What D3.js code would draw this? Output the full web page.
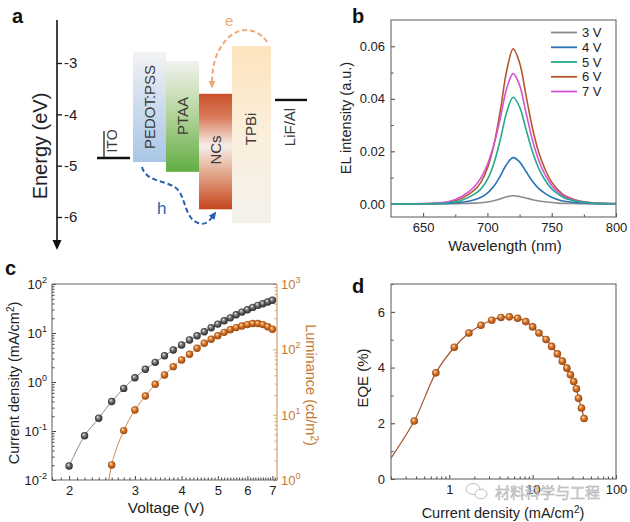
<!DOCTYPE html>
<html><head><meta charset="utf-8">
<script src="https://cdn.jsdelivr.net/npm/d3@7"></script>
<style>body{margin:0;background:#fff} svg{display:block;font-family:"Liberation Sans",Arial,sans-serif}</style>
</head><body><svg id="fig" width="630" height="522"></svg>
<script>
// ---------------- DATA ----------------
// panel a: energy levels (eV)
const layerNames = ["PEDOT:PSS", "PTAA", "NCs", "TPBi"];
const layerTop = [-2.79, -2.96, -3.60, -2.67];
const layerBottom = [-4.93, -5.12, -5.85, -6.12];
const electrodeNames = ["ITO", "LiF/Al"];
const electrodeLevels = [-4.85, -3.72];
const energyTicks = [-3, -4, -5, -6];

// panel b: EL spectra
const wavelengths = [620,640,660,670,680,690,695,700,705,710,715,720,725,730,735,740,745,750,755,760,770,780,790,800];
const el3V = [0,0,0.00002,0.00005,0.00013,0.0003,0.00045,0.0007,0.0012,0.0019,0.0027,0.0031,0.0028,0.0022,0.0016,0.0011,0.0008,0.0005,0.0003,0.0002,0.0001,0.00004,0.00001,0];
const el4V = [0,0,0.00005,0.0002,0.0006,0.0016,0.0025,0.0041,0.0067,0.0106,0.0151,0.0176,0.016,0.0123,0.0086,0.0058,0.0039,0.0025,0.0016,0.001,0.0004,0.00016,0.00005,0.00002];
const el5V = [0,0,0.0001,0.0004,0.0014,0.0037,0.0057,0.0093,0.0154,0.0244,0.0349,0.0406,0.0369,0.0284,0.0199,0.0134,0.0089,0.0057,0.0037,0.0022,0.0009,0.0004,0.0001,0.00004];
const el6V = [0,0,0.0002,0.0006,0.0021,0.0053,0.0083,0.0136,0.0224,0.0354,0.0507,0.059,0.0537,0.0413,0.0289,0.0195,0.013,0.0083,0.0053,0.0032,0.0013,0.0005,0.0002,0.0001];
const el7V = [0,0,0.0003,0.0009,0.0028,0.0066,0.0100,0.0150,0.0225,0.0325,0.0440,0.0496,0.0452,0.0347,0.0243,0.0164,0.0109,0.007,0.0045,0.0027,0.0011,0.0004,0.0002,0.0001];
const elLabels = ["3 V", "4 V", "5 V", "6 V", "7 V"];
const bXTicks = [650, 700, 750, 800];
const bYTicks = [0, 0.02, 0.04, 0.06];

// panel c: J-V-L
const voltages = [2.0,2.2,2.4,2.6,2.8,3.0,3.2,3.4,3.6,3.8,4.0,4.2,4.4,4.6,4.8,5.0,5.2,5.4,5.6,5.8,6.0,6.2,6.4,6.6,6.8,7.0];
const currentDensity = [0.0193,0.080,0.182,0.40,0.74,1.22,1.82,2.52,3.44,4.5,5.7,7.2,8.8,10.6,12.8,15.2,17.8,20.4,23.5,26.7,29.9,33.3,36.7,39.6,43,46.5];
const lumVoltages = [2.4,2.6,2.8,3.0,3.2,3.4,3.6,3.8,4.0,4.2,4.4,4.6,4.8,5.0,5.2,5.4,5.6,5.8,6.0,6.2,6.4,6.6,6.8,7.0];
const luminance = [0.06,1.7,5.7,11.8,19.3,29.2,40.5,54.3,68.8,84,104,124,143,162,182,200,215,228,239,248,248,239,222,203];
const cXTicks = [2, 3, 4, 5, 6, 7];
const cLeftExp = [-2, -1, 0, 1, 2];
const cRightExp = [0, 1, 2, 3];

// panel d: EQE vs J
const eqeJ = [0.18,0.38,0.69,1.15,1.72,2.4,3.23,4.17,5.25,6.6,8.26,10,11.9,14.5,16.9,19.8,22.7,25.7,28.4,31.1,33.5,35.5,38.5,41.4];
const eqe = [0.55,2.08,3.81,4.73,5.24,5.52,5.70,5.80,5.82,5.77,5.65,5.46,5.24,5.01,4.76,4.49,4.23,3.98,3.74,3.5,3.24,2.9,2.55,2.17];
const dXTicks = [1, 10, 100];
const dYTicks = [0, 2, 4, 6];

// ---------------- DRAW ----------------
const svg = d3.select("#fig");
svg.append("rect").attr("width",630).attr("height",522).attr("fill","#fff");
const defs = svg.append("defs");

function vgrad(id, stops){
  const g = defs.append("linearGradient").attr("id",id).attr("x1",0).attr("y1",0).attr("x2",0).attr("y2",1);
  stops.forEach(s=>g.append("stop").attr("offset",s[0]).attr("stop-color",s[1]));
}
function rgrad(id, c0, c1, c2){
  const g = defs.append("radialGradient").attr("id",id).attr("cx","50%").attr("cy","50%").attr("r","55%").attr("fx","35%").attr("fy","30%");
  g.append("stop").attr("offset","0%").attr("stop-color",c0);
  g.append("stop").attr("offset","45%").attr("stop-color",c1);
  g.append("stop").attr("offset","100%").attr("stop-color",c2);
}
rgrad("dotO","#fde6c4","#d8772a","#8a3c08");
rgrad("dotG","#eeeeee","#6e6e6e","#1e1e1e");
vgrad("gPEDOT",[[0,"#f3f3f3"],[0.35,"#d6e2ef"],[1,"#a9c6e6"]]);
vgrad("gPTAA",[[0,"#f2f2ef"],[0.45,"#b8d6a0"],[1,"#62ad44"]]);
vgrad("gNCs",[[0,"#c9502a"],[0.2,"#d97a5a"],[0.45,"#f6eeea"],[0.7,"#e2a488"],[1,"#c5441c"]]);
vgrad("gTPBi",[[0,"#fde4bd"],[0.5,"#fbefdc"],[1,"#f4f1ec"]]);

// panel letters
[["a",12,23],["b",352,23],["c",5,275],["d",352,293]].forEach(p=>{
  svg.append("text").attr("x",p[1]).attr("y",p[2]).attr("font-size",20).attr("font-weight","bold").attr("fill","#111").text(p[0]);
});

// ===== Panel a =====
const yE = d3.scaleLinear().domain([-3,-6]).range([63,217]);
const a = svg.append("g");
const layerX = [133,166,199,232], layerW = [33,33,33,39];
const layerGrad = ["gPEDOT","gPTAA","gNCs","gTPBi"];
const labelCY = [107,116,150,129];
layerNames.forEach((n,i)=>{
  a.append("rect").attr("x",layerX[i]).attr("width",layerW[i])
   .attr("y",yE(layerTop[i])).attr("height",yE(layerBottom[i])-yE(layerTop[i]))
   .attr("fill",`url(#${layerGrad[i]})`);
});
layerNames.forEach((n,i)=>{
  const cx = layerX[i]+layerW[i]/2 + (i===3?-1:0);
  a.append("text").attr("transform",`translate(${cx+5.3},${labelCY[i]}) rotate(-90)`)
   .attr("text-anchor","middle").attr("font-size",15).attr("fill","#3a3a3a").text(n);
});
// electrodes
const elecX = [[97,130],[275,307]];
electrodeLevels.forEach((e,i)=>{
  a.append("line").attr("x1",elecX[i][0]).attr("x2",elecX[i][1]).attr("y1",yE(e)).attr("y2",yE(e))
   .attr("stroke","#111").attr("stroke-width",2.4);
});
a.append("line").attr("x1",104).attr("x2",104).attr("y1",131).attr("y2",yE(electrodeLevels[0])).attr("stroke","#222").attr("stroke-width",1.3);
a.append("text").attr("transform",`translate(117,141) rotate(-90)`).attr("text-anchor","middle").attr("font-size",14).attr("fill","#3a3a3a").text(electrodeNames[0]);
a.append("text").attr("transform",`translate(295,127) rotate(-90)`).attr("text-anchor","middle").attr("font-size",15).attr("fill","#3a3a3a").text(electrodeNames[1]);
// energy axis
a.append("line").attr("x1",57).attr("x2",57).attr("y1",20).attr("y2",243).attr("stroke","#111").attr("stroke-width",1.6);
a.append("path").attr("d","M52.5,240 L61.5,240 L57,250 Z").attr("fill","#111");
const axE = a.append("g").attr("transform","translate(57,0)")
  .call(d3.axisRight(yE).tickValues(energyTicks).tickSize(5).tickPadding(2).tickFormat(d=>String(d)));
axE.select(".domain").remove();
axE.selectAll("line").attr("stroke","#111").attr("stroke-width",1.3);
axE.selectAll("text").attr("font-size",15).attr("fill","#222").attr("font-family","Liberation Sans, Arial, sans-serif");
a.append("text").attr("transform","translate(47,146) rotate(-90)").attr("text-anchor","middle").attr("font-size",20).attr("fill","#222").text("Energy (eV)");
// arrows
function marker(id,col){
  defs.append("marker").attr("id",id).attr("viewBox","0 0 10 10").attr("refX",3).attr("refY",5)
    .attr("markerUnits","userSpaceOnUse").attr("markerWidth",8).attr("markerHeight",8).attr("orient","auto")
    .append("path").attr("d","M0,0.5 L10,5 L0,9.5 Z").attr("fill",col);
}
marker("arrB","#2a5fae"); marker("arrO","#f0a878");
a.append("path").attr("d","M142,167 C146,182 165,180 176,188 C186,196 184,218 198,223 C206,226 210,220 213,216")
 .attr("fill","none").attr("stroke","#2a5fae").attr("stroke-width",2).attr("stroke-dasharray","5,3").attr("marker-end","url(#arrB)");
a.append("path").attr("d","M267,42 C258,28 240,26 228,38 C216,50 212,66 212,83")
 .attr("fill","none").attr("stroke","#f0a878").attr("stroke-width",2).attr("stroke-dasharray","5,3").attr("marker-end","url(#arrO)");
a.append("text").attr("x",157).attr("y",214).attr("font-size",17).attr("fill","#2a5fae").text("h");
a.append("text").attr("x",225).attr("y",26).attr("font-size",15).attr("fill","#f0a878").text("e");

// generic helpers
function styleAxis(g, fs){
  g.select(".domain").remove();
  g.selectAll("line").attr("stroke","#444").attr("stroke-width",1);
  g.selectAll("text").attr("font-size",fs||13).attr("fill","#222").attr("font-family","Liberation Sans, Arial, sans-serif");
  return g;
}
function frame(x0,y0,x1,y1){
  svg.append("rect").attr("x",x0).attr("y",y0).attr("width",x1-x0).attr("height",y1-y0)
    .attr("fill","none").attr("stroke","#666").attr("stroke-width",1.1);
}
function clip(id,x0,y0,x1,y1){
  defs.append("clipPath").attr("id",id).append("rect").attr("x",x0).attr("y",y0).attr("width",x1-x0).attr("height",y1-y0);
}
function logMinors(lo, hi){
  const out=[]; for(let e=Math.floor(Math.log10(lo)); e<=Math.ceil(Math.log10(hi)); e++){
    for(let k=2;k<=9;k++){ const v=k*Math.pow(10,e); if(v>=lo && v<=hi) out.push(v);} }
  return out;
}

// ===== Panel b =====
const bx0=391,bx1=616,by0=20,by1=217;
const xB = d3.scaleLinear().domain([625,800]).range([bx0,bx1]);
const yB = d3.scaleLinear().domain([-0.005,0.07]).range([by1,by0]);
clip("clipB",bx0,by0,bx1,by1);
styleAxis(svg.append("g").attr("transform",`translate(0,${by1})`).call(d3.axisBottom(xB).tickValues(bXTicks).tickSizeInner(-4).tickSizeOuter(0).tickPadding(6).tickFormat(d3.format("d"))));
styleAxis(svg.append("g").attr("transform",`translate(0,${by1})`).call(d3.axisBottom(xB).tickValues([675,725,775]).tickSizeInner(-2.5).tickSizeOuter(0).tickFormat("")));
styleAxis(svg.append("g").attr("transform",`translate(${bx0},0)`).call(d3.axisLeft(yB).tickValues(bYTicks).tickSizeInner(-4).tickSizeOuter(0).tickPadding(6).tickFormat(d3.format(".2f"))));
styleAxis(svg.append("g").attr("transform",`translate(${bx0},0)`).call(d3.axisLeft(yB).tickValues([0.01,0.03,0.05]).tickSizeInner(-2.5).tickSizeOuter(0).tickFormat("")));
const series = [el3V, el4V, el5V, el6V, el7V];
const sColors = ["#8c8c8c","#2a72b8","#25a98e","#b4582c","#d553d6"];
const lineB = d3.line().x((d,i)=>xB(wavelengths[i])).y(d=>yB(d)).curve(d3.curveCatmullRom.alpha(0.5));
const gB = svg.append("g").attr("clip-path","url(#clipB)");
[0,1,3,4,2].forEach(i=>{
  gB.append("path").datum(series[i]).attr("d",lineB).attr("fill","none").attr("stroke",sColors[i]).attr("stroke-width",1.6);
});
frame(bx0,by0,bx1,by1);
const legY = [32.5,47.3,62,76.8,91.5];
elLabels.forEach((l,i)=>{
  svg.append("line").attr("x1",551).attr("x2",577).attr("y1",legY[i]).attr("y2",legY[i]).attr("stroke",sColors[i]).attr("stroke-width",1.8);
  svg.append("text").attr("x",582).attr("y",legY[i]+4.6).attr("font-size",13).attr("fill","#222").text(l);
});
svg.append("text").attr("transform",`translate(351,118) rotate(-90)`).attr("text-anchor","middle").attr("font-size",14.5).attr("fill","#222").text("EL intensity (a.u.)");
svg.append("text").attr("x",505).attr("y",251).attr("text-anchor","middle").attr("font-size",15).attr("fill","#222").text("Wavelength (nm)");

// ===== Panel c =====
const cx0=52,cx1=277,cy0=284,cy1=480;
const xC = d3.scaleLog().domain([1.8,7.2]).range([cx0,cx1]);
const yCL = d3.scaleLog().domain([0.01,100]).range([cy1,cy0]);
const yCR = d3.scaleLog().domain([1,1000]).range([cy1,cy0]);
clip("clipC",cx0,cy0,cx1,cy1);
styleAxis(svg.append("g").attr("transform",`translate(0,${cy1})`).call(d3.axisBottom(xC).tickValues(cXTicks).tickSizeInner(-4).tickSizeOuter(0).tickPadding(6).tickFormat(d3.format("d"))));
const cMinor = d3.range(18,73).filter(v=>v%10!==0).map(v=>v/10);
styleAxis(svg.append("g").attr("transform",`translate(0,${cy1})`).call(d3.axisBottom(xC).tickValues(cMinor).tickSizeInner(-2.5).tickSizeOuter(0).tickFormat("")));
// left log axis
styleAxis(svg.append("g").attr("transform",`translate(${cx0},0)`).call(d3.axisLeft(yCL).tickValues(cLeftExp.map(e=>Math.pow(10,e))).tickSizeInner(-4).tickSizeOuter(0).tickPadding(5).tickFormat("")));
styleAxis(svg.append("g").attr("transform",`translate(${cx0},0)`).call(d3.axisLeft(yCL).tickValues(logMinors(0.01,100)).tickSizeInner(-2.5).tickSizeOuter(0).tickFormat("")));
cLeftExp.forEach(e=>{
  const t = svg.append("text").attr("x",cx0-5).attr("y",yCL(Math.pow(10,e))+5).attr("text-anchor","end").attr("font-size",13).attr("fill","#222");
  t.append("tspan").text("10");
  t.append("tspan").attr("dy",-6).attr("font-size",9).text(String(e));
});
// right log axis (orange)
const orangeAxis = "#d9a777", orangeText = "#c57a34";
const gCR = svg.append("g").attr("transform",`translate(${cx1},0)`).call(d3.axisRight(yCR).tickValues(cRightExp.map(e=>Math.pow(10,e))).tickSizeInner(-4).tickSizeOuter(0).tickFormat(""));
const gCR2 = svg.append("g").attr("transform",`translate(${cx1},0)`).call(d3.axisRight(yCR).tickValues(logMinors(1,1000)).tickSizeInner(-2.5).tickSizeOuter(0).tickFormat(""));
[gCR,gCR2].forEach(g=>{g.select(".domain").remove(); g.selectAll("line").attr("stroke",orangeAxis).attr("stroke-width",1);});
cRightExp.forEach(e=>{
  const t = svg.append("text").attr("x",cx1+4).attr("y",yCR(Math.pow(10,e))+5).attr("text-anchor","start").attr("font-size",13).attr("fill",orangeText);
  t.append("tspan").text("10");
  t.append("tspan").attr("dy",-6).attr("font-size",9).text(String(e));
});
const gC = svg.append("g").attr("clip-path","url(#clipC)");
const lineJ = d3.line().x((d,i)=>xC(voltages[i])).y(d=>yCL(d)).curve(d3.curveCatmullRom.alpha(0.5));
const lineL = d3.line().x((d,i)=>xC(lumVoltages[i])).y(d=>yCR(d)).curve(d3.curveCatmullRom.alpha(0.5));
gC.append("path").datum(currentDensity).attr("d",lineJ).attr("fill","none").attr("stroke","#8a8a8a").attr("stroke-width",1);
gC.append("path").datum(luminance).attr("d",lineL).attr("fill","none").attr("stroke","#d28a4a").attr("stroke-width",1);
gC.selectAll(".dj").data(currentDensity).enter().append("circle").attr("cx",(d,i)=>xC(voltages[i])).attr("cy",d=>yCL(d)).attr("r",3.7).attr("fill","url(#dotG)");
gC.selectAll(".dl").data(luminance).enter().append("circle").attr("cx",(d,i)=>xC(lumVoltages[i])).attr("cy",d=>yCR(d)).attr("r",3.7).attr("fill","url(#dotO)");
svg.append("line").attr("x1",cx0).attr("x2",cx1).attr("y1",cy0).attr("y2",cy0).attr("stroke","#666").attr("stroke-width",1.1);
svg.append("line").attr("x1",cx0).attr("x2",cx1).attr("y1",cy1).attr("y2",cy1).attr("stroke","#666").attr("stroke-width",1.1);
svg.append("line").attr("x1",cx0).attr("x2",cx0).attr("y1",cy0).attr("y2",cy1).attr("stroke","#666").attr("stroke-width",1.1);
svg.append("line").attr("x1",cx1).attr("x2",cx1).attr("y1",cy0).attr("y2",cy1).attr("stroke",orangeAxis).attr("stroke-width",1.3);
{
  const t = svg.append("text").attr("transform","translate(19,383) rotate(-90)").attr("text-anchor","middle").attr("font-size",14.5).attr("fill","#222");
  t.append("tspan").text("Current density (mA/cm");
  t.append("tspan").attr("dy",-5).attr("font-size",10).text("2");
  t.append("tspan").attr("dy",5).text(")");
  const r = svg.append("text").attr("transform","translate(306,385) rotate(90)").attr("text-anchor","middle").attr("font-size",14.5).attr("fill",orangeText);
  r.append("tspan").text("Luminance (cd/m");
  r.append("tspan").attr("dy",-5).attr("font-size",10).text("2");
  r.append("tspan").attr("dy",5).text(")");
}
svg.append("text").attr("x",166).attr("y",513).attr("text-anchor","middle").attr("font-size",15.5).attr("fill","#222").text("Voltage (V)");

// ===== Panel d =====
const dx0=391,dx1=616,dy0=284,dy1=479;
const xD = d3.scaleLog().domain([0.2,100]).range([dx0,dx1]);
const yD = d3.scaleLinear().domain([0,7]).range([dy1,dy0]);
clip("clipD",dx0,dy0,dx1,dy1);
styleAxis(svg.append("g").attr("transform",`translate(0,${dy1})`).call(d3.axisBottom(xD).tickValues(dXTicks).tickSizeInner(-4).tickSizeOuter(0).tickPadding(6).tickFormat(d3.format("d"))));
styleAxis(svg.append("g").attr("transform",`translate(0,${dy1})`).call(d3.axisBottom(xD).tickValues(logMinors(0.2,100)).tickSizeInner(-2.5).tickSizeOuter(0).tickFormat("")));
styleAxis(svg.append("g").attr("transform",`translate(${dx0},0)`).call(d3.axisLeft(yD).tickValues(dYTicks).tickSizeInner(-4).tickSizeOuter(0).tickPadding(6).tickFormat(d3.format("d"))));
styleAxis(svg.append("g").attr("transform",`translate(${dx0},0)`).call(d3.axisLeft(yD).tickValues([1,3,5,7]).tickSizeInner(-2.5).tickSizeOuter(0).tickFormat("")));
const gD = svg.append("g").attr("clip-path","url(#clipD)");
const lineD = d3.line().x((d,i)=>xD(eqeJ[i])).y(d=>yD(d)).curve(d3.curveCatmullRom.alpha(0.5));
gD.append("path").datum(eqe).attr("d",lineD).attr("fill","none").attr("stroke","#a0562e").attr("stroke-width",1.2);
gD.selectAll(".de").data(eqe).enter().append("circle").attr("cx",(d,i)=>xD(eqeJ[i])).attr("cy",d=>yD(d)).attr("r",3.8).attr("fill","url(#dotO)");
frame(dx0,dy0,dx1,dy1);
svg.append("text").attr("transform","translate(368,378) rotate(-90)").attr("text-anchor","middle").attr("font-size",15).attr("fill","#222").text("EQE (%)");
{
  const t = svg.append("text").attr("x",503).attr("y",518).attr("text-anchor","middle").attr("font-size",14.5).attr("fill","#222");
  t.append("tspan").text("Current density (mA/cm");
  t.append("tspan").attr("dy",-5).attr("font-size",10).text("2");
  t.append("tspan").attr("dy",5).text(")");
}
// watermark
const wm = svg.append("g").attr("opacity",0.85);
wm.append("ellipse").attr("cx",473).attr("cy",489).attr("rx",7).attr("ry",5.5).attr("fill","#fff").attr("stroke","#b5b5b5").attr("stroke-width",1);
wm.append("ellipse").attr("cx",481).attr("cy",494).attr("rx",6).attr("ry",4.8).attr("fill","#fff").attr("stroke","#b5b5b5").attr("stroke-width",1);
wm.append("text").attr("x",495).attr("y",498).attr("font-size",15).attr("font-family","Noto Sans CJK SC")
  .attr("fill","#d2d2d2").attr("stroke","#a5a5a5").attr("stroke-width",0.5).text("材料科学与工程");
</script></body></html>
